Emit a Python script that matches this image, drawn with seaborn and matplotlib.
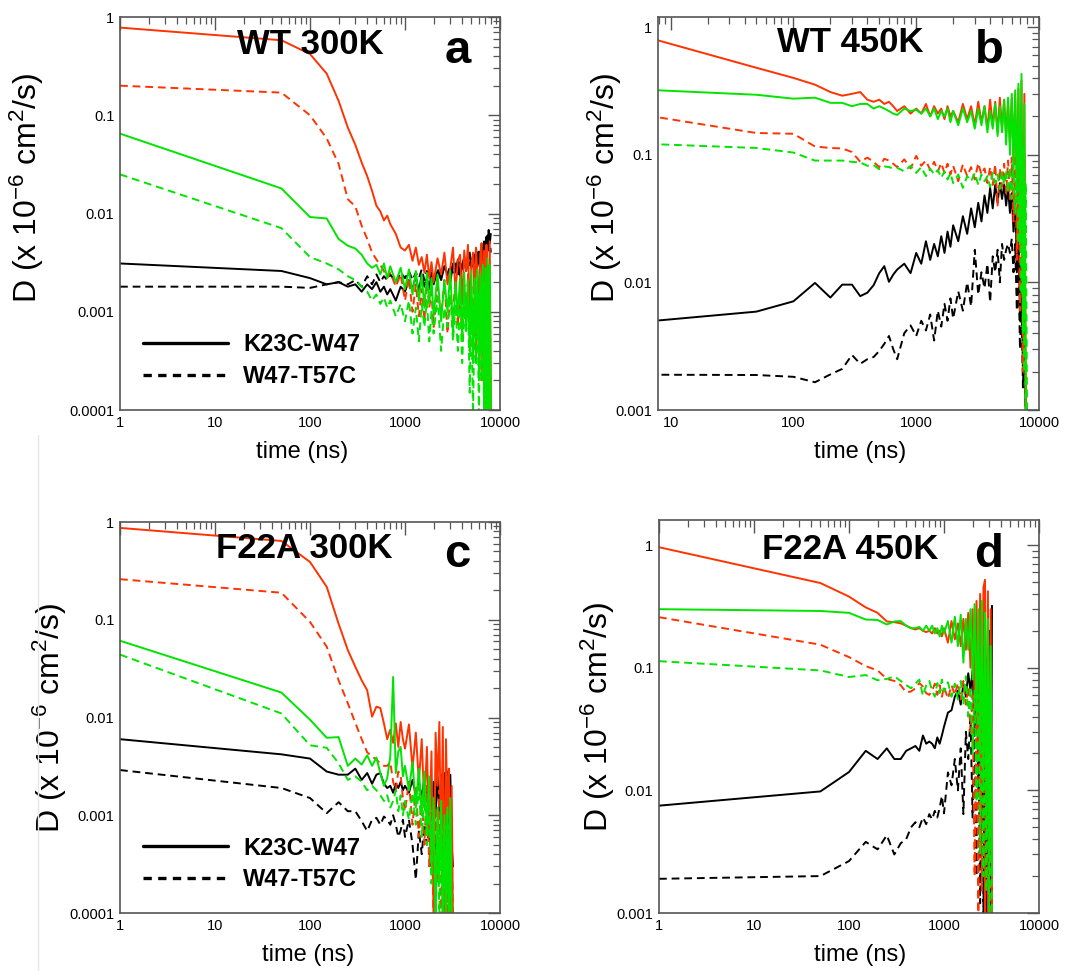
import matplotlib
matplotlib.use("Agg")
import matplotlib.pyplot as plt
import seaborn as sns
from matplotlib.lines import Line2D
from matplotlib.ticker import LogLocator, FuncFormatter, NullFormatter

# ---------------- data ----------------
# time grids (ns)
t_ab = [1, 50, 100, 150, 200, 250, 300, 350, 400, 450, 500, 550, 600, 650, 700,
        800, 900, 1000, 1100, 1200, 1300, 1400, 1500, 1600, 1700, 1800, 1900, 2000,
        2200, 2400, 2600, 2800, 3000, 3200, 3400, 3600, 3800, 4000, 4200, 4400, 4600, 4800,
        5000, 5200, 5400, 5600, 5800, 6000, 6200, 6400, 6600, 6800, 7000, 7200, 7400, 7600,
        7800, 8000]
t_cd = [1, 50, 100, 150, 200, 250, 300, 350, 400, 450, 500, 550, 600, 650, 700, 750,
        800, 850, 900, 950, 1000,
        1100, 1200, 1300, 1400, 1500, 1600, 1700, 1800, 1900, 2000, 2100, 2200, 2300,
        2400, 2500, 2600, 2700, 2800, 2900, 3000, 3100, 3200]

# Panel a: WT 300K
a_red_solid = [0.78, 0.58, 0.42, 0.265, 0.14, 0.075, 0.050, 0.033, 0.024, 0.017, 0.012, 0.0105, 0.0085, 0.0095, 0.0078,
               0.0062, 0.0045, 0.0042, 0.0048, 0.0033, 0.0045, 0.0030, 0.0036, 0.0025, 0.0038, 0.0022, 0.0032, 0.0020,
               0.0035, 0.0024, 0.0040, 0.0019, 0.0028, 0.0045, 0.0016, 0.0033, 0.0038, 0.0012, 0.0042, 0.0026, 0.0048,
               0.0009, 0.0030, 0.0040, 0.0015, 0.0045, 0.0022, 0.0011, 0.0038, 0.0050, 0.0007, 0.0042, 0.0003, 0.0048,
               0.0018, 0.00015, 0.0052, 0.0001]
a_red_dash = [0.20, 0.17, 0.10, 0.058, 0.032, 0.014, 0.0118, 0.0075, 0.0055, 0.0040, 0.0034, 0.0030, 0.0026, 0.0022, 0.0025,
              0.0018, 0.0024, 0.0013, 0.0022, 0.0010, 0.0019, 0.0009, 0.0017, 0.0008, 0.0020, 0.0011, 0.0016, 0.0007,
              0.0018, 0.0009, 0.0021, 0.0006, 0.0015, 0.0010, 0.0022, 0.0007, 0.0017, 0.0005, 0.0019, 0.0008, 0.0024,
              0.0004, 0.0018, 0.0006, 0.0021, 0.0003, 0.0020, 0.0005, 0.0023, 0.0002, 0.0019, 0.00015, 0.0025, 0.0001,
              0.0030, 0.00008, 0.0028, 0.00008]
a_green_solid = [0.065, 0.018, 0.0092, 0.0089, 0.0055, 0.0047, 0.0044, 0.0038, 0.0031, 0.0028, 0.0030, 0.0024, 0.0031, 0.0022, 0.0029,
                 0.0020, 0.0028, 0.0017, 0.0027, 0.0015, 0.0026, 0.0013, 0.0024, 0.0011, 0.0025, 0.0012, 0.0022, 0.0009,
                 0.0024, 0.0008, 0.0021, 0.0010, 0.0026, 0.0006, 0.0020, 0.0009, 0.0023, 0.0005, 0.0025, 0.0007, 0.0021,
                 0.0004, 0.0026, 0.0003, 0.0022, 0.0006, 0.0027, 0.0002, 0.0024, 0.0004, 0.0030, 0.0001, 0.0028, 0.00008,
                 0.0035, 0.00008, 0.0030, 0.00008]
a_green_dash = [0.025, 0.0071, 0.0036, 0.0031, 0.0027, 0.0023, 0.0021, 0.0018, 0.0016, 0.0013, 0.0015, 0.0012, 0.0014, 0.0011, 0.0013,
                0.0009, 0.0012, 0.0008, 0.0013, 0.0006, 0.0011, 0.0005, 0.0012, 0.0007, 0.0013, 0.0005, 0.0010, 0.0006,
                0.0014, 0.0004, 0.0011, 0.0007, 0.0015, 0.0005, 0.0012, 0.0004, 0.0013, 0.0003, 0.0011, 0.0006, 0.0014,
                0.00015, 0.0012, 0.00009, 0.0010, 0.0003, 0.0016, 0.00008, 0.0013, 0.0002, 0.0018, 0.00008, 0.0020, 0.00008,
                0.0022, 0.00008, 0.0025, 0.00008]
a_black_solid = [0.0031, 0.0026, 0.0022, 0.0019, 0.0020, 0.0018, 0.0019, 0.0016, 0.0019, 0.0017, 0.0020, 0.0016, 0.0018, 0.0015, 0.0017,
                 0.0013, 0.0018, 0.0016, 0.0021, 0.0017, 0.0023, 0.0016, 0.0024, 0.0018, 0.0022, 0.0017, 0.0025, 0.0019,
                 0.0026, 0.0021, 0.0029, 0.0024, 0.0020, 0.0031, 0.0025, 0.0034, 0.0023, 0.0030, 0.0036, 0.0026, 0.0033,
                 0.0040, 0.0028, 0.0037, 0.0031, 0.0044, 0.0029, 0.0041, 0.0035, 0.0048, 0.0033, 0.0052, 0.0040, 0.0058,
                 0.0045, 0.0068, 0.0050, 0.0062]
a_black_dash = [0.0018, 0.0018, 0.00175, 0.0019, 0.0020, 0.0019, 0.0021, 0.0018, 0.0023, 0.0019, 0.0024, 0.0020, 0.0023, 0.0021, 0.0024,
                0.0020, 0.0025, 0.0022, 0.0026, 0.0021, 0.0025, 0.0022, 0.0027, 0.0021, 0.0026, 0.0023, 0.0028, 0.0022,
                0.0027, 0.0023, 0.0029, 0.0024, 0.0030, 0.0025, 0.0031, 0.0024, 0.0032, 0.0026, 0.0033, 0.0027, 0.0034,
                0.0028, 0.0036, 0.0029, 0.0038, 0.0030, 0.0040, 0.0031, 0.0041, 0.0033, 0.0044, 0.0035, 0.0050, 0.0038,
                0.0060, 0.0042, 0.0055, 0.0040]

# Panel b: WT 450K
b_red_solid = [1.37, 0.48, 0.40, 0.354, 0.31, 0.29, 0.30, 0.31, 0.27, 0.26, 0.27, 0.25, 0.26, 0.24, 0.22,
               0.24, 0.21, 0.23, 0.21, 0.25, 0.20, 0.24, 0.21, 0.23, 0.19, 0.24, 0.20, 0.22,
               0.18, 0.25, 0.19, 0.24, 0.17, 0.26, 0.18, 0.24, 0.16, 0.27, 0.17, 0.26, 0.15, 0.28, 0.16, 0.27, 0.14,
               0.26, 0.12, 0.28, 0.09, 0.30, 0.06, 0.33, 0.02, 0.38, 0.005, 0.30, 0.001, 0.0008]
b_green_solid = [0.35, 0.295, 0.275, 0.28, 0.255, 0.255, 0.24, 0.25, 0.25, 0.23, 0.24, 0.23, 0.22, 0.21, 0.205,
                 0.23, 0.22, 0.225, 0.21, 0.23, 0.20, 0.23, 0.19, 0.22, 0.20, 0.23, 0.18, 0.22,
                 0.17, 0.23, 0.18, 0.22, 0.16, 0.23, 0.17, 0.24, 0.15, 0.22, 0.16, 0.25, 0.14, 0.24, 0.15, 0.27, 0.12,
                 0.28, 0.10, 0.30, 0.08, 0.32, 0.05, 0.36, 0.02, 0.43, 0.004, 0.25, 0.001, 0.0008]
b_red_dash = [0.27, 0.148, 0.146, 0.116, 0.113, 0.112, 0.105, 0.088, 0.095, 0.088, 0.080, 0.093, 0.090, 0.085, 0.080,
              0.092, 0.078, 0.098, 0.082, 0.090, 0.076, 0.088, 0.074, 0.086, 0.072, 0.085, 0.070, 0.082,
              0.062, 0.084, 0.068, 0.080, 0.064, 0.086, 0.070, 0.078, 0.060, 0.080, 0.058, 0.084, 0.040, 0.078, 0.056,
              0.085, 0.050, 0.090, 0.045, 0.095, 0.030, 0.100, 0.015, 0.12, 0.006, 0.15, 0.002, 0.10, 0.0008, 0.0008]
b_green_dash = [0.13, 0.113, 0.104, 0.090, 0.090, 0.090, 0.088, 0.087, 0.082, 0.083, 0.077, 0.081, 0.080, 0.078, 0.079,
                0.074, 0.082, 0.072, 0.080, 0.068, 0.078, 0.070, 0.076, 0.066, 0.074, 0.064, 0.072, 0.060,
                0.070, 0.055, 0.068, 0.062, 0.072, 0.058, 0.070, 0.062, 0.068, 0.056, 0.072, 0.060, 0.070, 0.054, 0.074,
                0.058, 0.076, 0.050, 0.080, 0.045, 0.085, 0.035, 0.090, 0.020, 0.10, 0.008, 0.12, 0.002, 0.06, 0.0008]
b_black_solid = [0.0042, 0.0059, 0.0071, 0.0099, 0.0076, 0.0096, 0.0096, 0.0078, 0.0083, 0.0095, 0.0118, 0.0134, 0.0101, 0.0115, 0.0126,
                 0.0140, 0.0118, 0.0170, 0.0140, 0.0210, 0.0150, 0.0200, 0.0160, 0.0230, 0.0170, 0.0250, 0.0190, 0.0280,
                 0.0210, 0.0330, 0.0240, 0.0380, 0.0270, 0.0420, 0.0300, 0.0480, 0.0350, 0.0550, 0.0380, 0.0580, 0.0420,
                 0.0600, 0.0450, 0.0580, 0.0400, 0.0550, 0.0350, 0.0500, 0.0250, 0.0450, 0.0120, 0.0300, 0.0050, 0.0150,
                 0.0020, 0.0060, 0.0009, 0.0008]
b_black_dash = [0.0019, 0.00188, 0.00182, 0.00165, 0.0019, 0.0021, 0.0027, 0.0023, 0.0025, 0.0026, 0.0029, 0.0033, 0.0038, 0.0030, 0.0025,
                0.0040, 0.0046, 0.0038, 0.0050, 0.0042, 0.0056, 0.0035, 0.0060, 0.0045, 0.0068, 0.0050, 0.0075, 0.0052,
                0.0085, 0.0060, 0.0100, 0.0065, 0.0180, 0.0080, 0.0120, 0.0090, 0.0140, 0.0070, 0.0160, 0.0120, 0.0180,
                0.0100, 0.0200, 0.0150, 0.0180, 0.0200, 0.0170, 0.0220, 0.0120, 0.0200, 0.0060, 0.0150, 0.0030, 0.0080,
                0.0015, 0.0040, 0.0009, 0.0008]

# Panel c: F22A 300K
c_red_solid = [0.87, 0.64, 0.39, 0.217, 0.091, 0.049, 0.033, 0.024, 0.019, 0.0102, 0.0129, 0.0125, 0.0087, 0.0060, 0.0075,
               0.0055, 0.0087, 0.0050, 0.0090, 0.0060, 0.0048,
               0.0085, 0.0030, 0.0070, 0.0022, 0.0060, 0.0012, 0.0050, 0.0006, 0.0045, 0.00008, 0.0070, 0.0020, 0.0090,
               0.0004, 0.0080, 0.00008, 0.0060, 0.0010, 0.0030, 0.00008, 0.0020, 0.00008]
c_red_dash = [0.26, 0.189, 0.095, 0.053, 0.024, 0.014, 0.0088, 0.0060, 0.0044, 0.0040, 0.0037, 0.0034, 0.0032, 0.0032, 0.0035,
              0.0022, 0.0018, 0.0028, 0.0026, 0.0015, 0.0011,
              0.0022, 0.0008, 0.0019, 0.0006, 0.0016, 0.0005, 0.0020, 0.0003, 0.0015, 0.00008, 0.0012, 0.0002, 0.0018,
              0.00008, 0.0014, 0.0001, 0.0010, 0.00008, 0.0008, 0.00008, 0.0005, 0.00008]
c_green_solid = [0.061, 0.018, 0.0095, 0.0062, 0.0063, 0.0032, 0.0038, 0.0033, 0.0041, 0.0032, 0.0039, 0.0027, 0.0020, 0.0024, 0.0040,
                 0.026, 0.0027, 0.0045, 0.0050, 0.0025, 0.0032,
                 0.0018, 0.0035, 0.0012, 0.0030, 0.0010, 0.0028, 0.0007, 0.0025, 0.0003, 0.0015, 0.00008, 0.0012, 0.0002,
                 0.0014, 0.00008, 0.0010, 0.00008, 0.0012, 0.0001, 0.0015, 0.00008, 0.00008]
c_green_dash = [0.044, 0.011, 0.0052, 0.0049, 0.0034, 0.0023, 0.0025, 0.0022, 0.0018, 0.0020, 0.0018, 0.0016, 0.0014, 0.0016, 0.0012,
                0.0014, 0.0018, 0.0011, 0.0016, 0.0010, 0.0014,
                0.0009, 0.0017, 0.0008, 0.0020, 0.0006, 0.0015, 0.0005, 0.0012, 0.0002, 0.0010, 0.00008, 0.0009, 0.0001,
                0.0011, 0.00008, 0.0008, 0.00008, 0.0010, 0.00008, 0.0006, 0.00008, 0.00008]
c_black_solid = [0.0060, 0.0042, 0.0038, 0.0028, 0.0026, 0.0026, 0.0030, 0.0023, 0.0027, 0.0021, 0.0026, 0.0027, 0.0021, 0.0019, 0.0020,
                 0.0017, 0.0021, 0.0019, 0.0022, 0.0018, 0.0020,
                 0.0017, 0.0023, 0.0016, 0.0022, 0.0015, 0.0024, 0.0014, 0.0021, 0.0012, 0.0022, 0.0010, 0.0025, 0.0011,
                 0.0026, 0.0009, 0.0027, 0.0012, 0.0028, 0.0008, 0.0026, 0.0005, 0.0003]
c_black_dash = [0.0029, 0.0019, 0.0015, 0.00105, 0.00136, 0.0011, 0.0011, 0.00087, 0.00069, 0.0009, 0.00094, 0.0008, 0.00097, 0.0009, 0.0008,
                0.0010, 0.0008, 0.0006, 0.0007, 0.0009, 0.0006,
                0.0009, 0.0005, 0.00022, 0.0007, 0.0004, 0.0008, 0.0005, 0.0007, 0.0003, 0.0008, 0.0004, 0.0009, 0.0003,
                0.0010, 0.0002, 0.0009, 0.0003, 0.0008, 0.0002, 0.0006, 0.00008, 0.00008]

# Panel d: F22A 450K
d_red_solid = [0.96, 0.49, 0.38, 0.31, 0.28, 0.238, 0.235, 0.23, 0.22, 0.21, 0.205, 0.21, 0.20, 0.195, 0.20,
               0.19, 0.21, 0.19, 0.20, 0.18, 0.21,
               0.16, 0.24, 0.17, 0.23, 0.15, 0.25, 0.14, 0.28, 0.10, 0.30, 0.05, 0.35, 0.02, 0.40, 0.01, 0.45, 0.52,
               0.005, 0.42, 0.002, 0.30, 0.0008]
d_green_solid = [0.30, 0.29, 0.28, 0.247, 0.245, 0.225, 0.238, 0.24, 0.22, 0.21, 0.21, 0.215, 0.20, 0.22, 0.20,
                 0.22, 0.19, 0.21, 0.18, 0.22, 0.19,
                 0.24, 0.16, 0.26, 0.15, 0.27, 0.11, 0.25, 0.14, 0.30, 0.08, 0.33, 0.04, 0.30, 0.02, 0.35, 0.01, 0.28,
                 0.004, 0.25, 0.003, 0.15, 0.002]
d_red_dash = [0.258, 0.154, 0.122, 0.103, 0.095, 0.081, 0.078, 0.072, 0.063, 0.064, 0.068, 0.075, 0.070, 0.062, 0.060,
              0.065, 0.074, 0.060, 0.072, 0.058, 0.070,
              0.056, 0.072, 0.060, 0.075, 0.055, 0.078, 0.050, 0.070, 0.030, 0.060, 0.002, 0.050, 0.001, 0.080, 0.0015,
              0.070, 0.001, 0.060, 0.001, 0.050, 0.001, 0.0008]
d_green_dash = [0.113, 0.095, 0.084, 0.087, 0.079, 0.081, 0.085, 0.078, 0.072, 0.068, 0.074, 0.080, 0.059, 0.072, 0.078,
                0.065, 0.058, 0.075, 0.062, 0.080, 0.064,
                0.076, 0.058, 0.074, 0.055, 0.078, 0.050, 0.085, 0.040, 0.070, 0.020, 0.065, 0.008, 0.060, 0.003, 0.055,
                0.002, 0.045, 0.0015, 0.040, 0.001, 0.030, 0.0008]
d_black_solid = [0.0075, 0.0098, 0.0141, 0.021, 0.018, 0.022, 0.018, 0.018, 0.021, 0.022, 0.023, 0.021, 0.028, 0.024, 0.025,
                 0.024, 0.022, 0.027, 0.024, 0.028, 0.033,
                 0.043, 0.045, 0.058, 0.065, 0.050, 0.074, 0.058, 0.090, 0.065, 0.095, 0.030, 0.120, 0.010, 0.100, 0.005,
                 0.150, 0.003, 0.120, 0.002, 0.200, 0.0008, 0.32]
d_black_dash = [0.0019, 0.0020, 0.00265, 0.0038, 0.0033, 0.0043, 0.0030, 0.0037, 0.0040, 0.0050, 0.0055, 0.0050, 0.0060, 0.0053, 0.0064,
                0.0058, 0.0068, 0.0060, 0.0072, 0.0090, 0.0065,
                0.014, 0.011, 0.018, 0.010, 0.022, 0.0064, 0.030, 0.018, 0.040, 0.006, 0.030, 0.002, 0.040, 0.0012, 0.030,
                0.001, 0.050, 0.001, 0.035, 0.001, 0.020, 0.0008]

titles = ["WT 300K", "WT 450K", "F22A 300K", "F22A 450K"]
letters = ["a", "b", "c", "d"]
legend_labels = ["K23C-W47", "W47-T57C"]

# ---------------- style ----------------
sns.set_theme(style="white")
plt.rcParams['font.family'] = ['Liberation Sans', 'DejaVu Sans']
plt.rcParams['mathtext.fontset'] = 'custom'
plt.rcParams['mathtext.rm'] = 'Liberation Sans'
plt.rcParams['mathtext.it'] = 'Liberation Sans'
for k in ['text.color', 'axes.labelcolor', 'xtick.labelcolor', 'ytick.labelcolor']:
    plt.rcParams[k] = 'black'

RED = '#ff3300'
GREEN = '#00e400'
BLACK = '#000000'
AX_COL = '#555555'
LW = 1.4
DASH = (0, (4, 2.5))

fig = plt.figure(figsize=(10.8, 9.71), dpi=100)
fig.patch.set_facecolor('white')

pos = {
    'a': [120/1080, 1-410/971, 380/1080, 393/971],
    'b': [658/1080, 1-410/971, 381/1080, 393/971],
    'c': [120/1080, 1-913/971, 380/1080, 391/971],
    'd': [659/1080, 1-913/971, 380/1080, 393/971],
}

panels = [
    dict(key='a', t=t_ab, series=[(a_black_solid, BLACK, '-'), (a_black_dash, BLACK, DASH),
                                  (a_red_solid, RED, '-'), (a_red_dash, RED, DASH),
                                  (a_green_solid, GREEN, '-'), (a_green_dash, GREEN, DASH)],
         xlim=(1, 10000), ylim=(1e-4, 1), title_xy=(0.50, 0.93), letter_xy=(0.89, 0.883),
         ylab=(-0.245, 0.565), xlab=(0.48, -0.107), legend=True),
    dict(key='b', t=t_ab, series=[(b_black_solid, BLACK, '-'), (b_black_dash, BLACK, DASH),
                                  (b_red_solid, RED, '-'), (b_red_dash, RED, DASH),
                                  (b_green_solid, GREEN, '-'), (b_green_dash, GREEN, DASH)],
         xlim=(7.9, 10000), ylim=(1e-3, 1.2), title_xy=(0.504, 0.934), letter_xy=(0.871, 0.883),
         ylab=(-0.14, 0.565), xlab=(0.53, -0.107), legend=False),
    dict(key='c', t=t_cd, series=[(c_black_solid, BLACK, '-'), (c_black_dash, BLACK, DASH),
                                  (c_red_solid, RED, '-'), (c_red_dash, RED, DASH),
                                  (c_green_solid, GREEN, '-'), (c_green_dash, GREEN, DASH)],
         xlim=(1, 10000), ylim=(1e-4, 1), title_xy=(0.485, 0.931), letter_xy=(0.887, 0.885),
         ylab=(-0.184, 0.50), xlab=(0.495, -0.107), legend=True),
    dict(key='d', t=t_cd, series=[(d_black_solid, BLACK, '-'), (d_black_dash, BLACK, DASH),
                                  (d_red_solid, RED, '-'), (d_red_dash, RED, DASH),
                                  (d_green_solid, GREEN, '-'), (d_green_dash, GREEN, DASH)],
         xlim=(1, 10000), ylim=(1e-3, 1.6), title_xy=(0.503, 0.926), letter_xy=(0.866, 0.88),
         ylab=(-0.16, 0.499), xlab=(0.53, -0.107), legend=False),
]

fmt = FuncFormatter(lambda v, p: '%g' % v)

for i, p in enumerate(panels):
    ax = fig.add_axes(pos[p['key']])
    ax.set_xscale('log')
    ax.set_yscale('log')
    for vals, col, ls in p['series']:
        n = min(len(p['t']), len(vals))
        sns.lineplot(x=p['t'][:n], y=vals[:n], ax=ax, color=col, linewidth=LW,
                     linestyle=ls, estimator=None, sort=False, legend=False)
    ax.set_xlim(*p['xlim'])
    ax.set_ylim(*p['ylim'])

    ax.xaxis.set_major_locator(LogLocator(base=10, numticks=10))
    ax.xaxis.set_minor_locator(LogLocator(base=10, subs=range(2, 10), numticks=20))
    ax.yaxis.set_major_locator(LogLocator(base=10, numticks=10))
    ax.yaxis.set_minor_locator(LogLocator(base=10, subs=range(2, 10), numticks=20))
    ax.xaxis.set_major_formatter(fmt)
    ax.yaxis.set_major_formatter(fmt)
    ax.xaxis.set_minor_formatter(NullFormatter())
    ax.yaxis.set_minor_formatter(NullFormatter())
    ax.tick_params(which='major', direction='in', length=9, width=1.0, color=AX_COL,
                   top=True, right=True, labelsize=10.5, pad=4, labelcolor='black')
    ax.tick_params(which='minor', direction='in', length=5, width=0.9, color=AX_COL,
                   top=True, right=True)
    for s in ax.spines.values():
        s.set_color(AX_COL)
        s.set_linewidth(1.2)

    ax.set_xlabel('time (ns)', fontsize=17, color='black')
    ax.xaxis.set_label_coords(*p['xlab'])
    ax.xaxis.label.set_verticalalignment('center')
    ax.set_ylabel(r'D (x 10$^{\mathregular{-6}}$ cm$^{\mathregular{2}}$/s)', fontsize=23, color='black')
    ax.yaxis.set_label_coords(*p['ylab'])
    ax.yaxis.label.set_verticalalignment('center')

    ax.text(*p['title_xy'], titles[i], transform=ax.transAxes, ha='center', va='center',
            fontsize=25, fontweight='bold', color='black')
    ax.text(*p['letter_xy'], letters[i], transform=ax.transAxes, ha='center', va='baseline',
            fontsize=34, fontweight='bold', color='black')

    if p['legend']:
        handles = [Line2D([], [], color='black', lw=2.4, linestyle='-'),
                   Line2D([], [], color='black', lw=2.4, linestyle=(0, (2.5, 1.9)))]
        leg = ax.legend(handles, legend_labels, loc='lower left', bbox_to_anchor=(0.06, 0.055),
                        frameon=False, handlelength=3.6, handletextpad=0.65, labelspacing=0.38,
                        borderpad=0, borderaxespad=0,
                        prop={'size': 17, 'weight': 'bold', 'family': ['Liberation Sans', 'DejaVu Sans']})
        for txt in leg.get_texts():
            txt.set_color('black')

# thin page-edge rule seen at the lower left of the reference
fig.add_artist(Line2D([38/1080, 38/1080], [0, 1-435/971], transform=fig.transFigure,
                      color='#e6e6e6', lw=1.0))

fig.savefig('out.png', dpi=100, facecolor='white')
